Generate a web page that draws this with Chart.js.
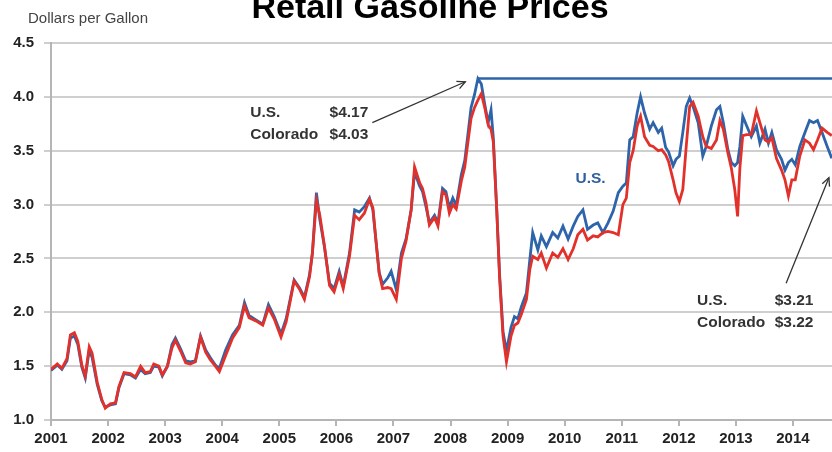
<!DOCTYPE html>
<html><head><meta charset="utf-8">
<script src="https://cdn.jsdelivr.net/npm/chart.js@4/dist/chart.umd.min.js"></script>
<style>html,body{margin:0;padding:0;background:#fff;overflow:hidden}#wrap{width:832px;height:452px;position:relative}</style>
</head><body><div id="wrap"><canvas id="c" width="832" height="452"></canvas></div>
<script>
// ---- data (decimal years) ----
const dates = [
2001.00,2001.11,2001.19,2001.28,2001.34,2001.41,2001.47,2001.54,2001.60,2001.67,2001.72,2001.81,2001.89,2001.95,
2002.04,2002.13,2002.19,2002.28,2002.39,2002.48,2002.57,2002.65,2002.74,2002.80,2002.89,2002.95,
2003.04,2003.12,2003.18,2003.27,2003.36,2003.44,2003.53,2003.62,2003.71,2003.79,2003.88,2003.95,
2004.06,2004.18,2004.30,2004.39,2004.47,2004.59,2004.71,2004.81,2004.91,
2005.03,2005.12,2005.26,2005.35,2005.44,2005.53,2005.58,2005.65,2005.71,2005.79,2005.88,2005.96,
2006.05,2006.12,2006.23,2006.32,2006.40,2006.49,2006.58,2006.64,2006.70,2006.75,2006.81,2006.90,2006.96,
2007.05,2007.14,2007.22,2007.31,2007.37,2007.46,2007.51,2007.57,2007.63,2007.72,2007.78,2007.86,2007.92,2007.98,
2008.04,2008.10,2008.19,2008.25,2008.30,2008.36,2008.42,2008.48,2008.54,2008.60,2008.66,2008.71,2008.75,2008.81,2008.86,2008.92,2008.98,
2009.06,2009.12,2009.18,2009.24,2009.33,2009.39,2009.44,2009.53,2009.59,2009.68,2009.79,2009.88,2009.97,
2010.06,2010.15,2010.23,2010.32,2010.40,2010.50,2010.58,2010.67,2010.76,2010.85,2010.94,
2011.02,2011.08,2011.14,2011.20,2011.27,2011.33,2011.40,2011.49,2011.55,2011.64,2011.70,2011.77,2011.82,2011.90,2011.95,
2012.01,2012.07,2012.13,2012.19,2012.25,2012.34,2012.42,2012.48,2012.57,2012.66,2012.72,2012.78,2012.86,2012.92,2012.98,
2013.03,2013.07,2013.12,2013.19,2013.27,2013.36,2013.42,2013.51,2013.57,2013.63,2013.71,2013.80,2013.86,2013.92,2013.98,
2014.04,2014.12,2014.21,2014.29,2014.36,2014.43,2014.51,2014.60,2014.68];

const usPrices = [
1.46,1.51,1.47,1.55,1.76,1.78,1.70,1.49,1.39,1.65,1.58,1.33,1.18,1.12,
1.14,1.15,1.30,1.43,1.42,1.39,1.47,1.43,1.44,1.50,1.49,1.41,
1.50,1.70,1.76,1.66,1.55,1.54,1.55,1.78,1.65,1.58,1.51,1.48,
1.65,1.79,1.88,2.09,1.97,1.93,1.89,2.07,1.96,
1.80,1.94,2.30,2.23,2.14,2.35,2.55,3.11,2.86,2.61,2.27,2.22,
2.38,2.24,2.55,2.95,2.93,2.98,3.06,2.95,2.63,2.37,2.26,2.32,2.38,
2.21,2.55,2.68,2.95,3.30,3.17,3.12,2.98,2.83,2.90,2.83,3.15,3.12,2.97,
3.06,2.99,3.28,3.41,3.63,3.90,4.02,4.17,4.12,3.93,3.76,3.88,3.62,2.95,2.35,1.82,1.64,
1.86,1.96,1.94,2.05,2.18,2.49,2.74,2.58,2.71,2.61,2.74,2.69,2.80,
2.68,2.80,2.89,2.95,2.77,2.81,2.83,2.74,2.83,2.94,3.11,
3.17,3.20,3.60,3.63,3.85,4.00,3.85,3.70,3.76,3.67,3.71,3.53,3.49,3.36,3.42,
3.45,3.67,3.91,3.99,3.91,3.76,3.45,3.54,3.73,3.88,3.91,3.76,3.51,3.39,3.36,
3.39,3.54,3.82,3.73,3.63,3.73,3.57,3.70,3.57,3.67,3.51,3.42,3.32,3.39,3.42,
3.37,3.54,3.67,3.78,3.76,3.78,3.67,3.54,3.43];

const coPrices = [
1.47,1.52,1.48,1.57,1.79,1.81,1.73,1.51,1.41,1.68,1.62,1.35,1.19,1.11,
1.15,1.16,1.31,1.44,1.43,1.40,1.50,1.44,1.45,1.52,1.50,1.42,
1.50,1.67,1.74,1.64,1.53,1.52,1.54,1.77,1.63,1.56,1.50,1.45,
1.60,1.76,1.86,2.06,1.95,1.92,1.88,2.04,1.94,
1.77,1.91,2.29,2.22,2.12,2.33,2.55,3.04,2.90,2.62,2.25,2.19,
2.35,2.22,2.52,2.90,2.86,2.92,3.05,2.97,2.63,2.36,2.22,2.23,2.22,
2.12,2.50,2.66,2.95,3.35,3.20,3.15,3.02,2.81,2.88,2.80,3.12,3.09,2.92,
3.00,2.96,3.22,3.35,3.56,3.80,3.90,3.97,4.03,3.90,3.74,3.70,3.58,2.95,2.32,1.78,1.54,
1.78,1.88,1.90,1.98,2.12,2.40,2.52,2.49,2.55,2.41,2.55,2.51,2.59,
2.49,2.59,2.72,2.77,2.67,2.71,2.70,2.74,2.75,2.74,2.72,
3.00,3.06,3.39,3.50,3.73,3.82,3.63,3.55,3.54,3.50,3.51,3.46,3.40,3.23,3.11,
3.03,3.14,3.54,3.91,3.95,3.82,3.63,3.54,3.52,3.60,3.78,3.70,3.48,3.34,3.14,
2.89,3.34,3.64,3.65,3.65,3.87,3.76,3.60,3.58,3.62,3.43,3.32,3.23,3.08,3.23,
3.23,3.45,3.60,3.57,3.51,3.60,3.71,3.67,3.64];

const peakLineDates = [2008.48, 2014.684];
const peakLineValues = [4.17, 4.17];
const yearTicks = [2001,2002,2003,2004,2005,2006,2007,2008,2009,2010,2011,2012,2013,2014];
const priceTicks = [1.0,1.5,2.0,2.5,3.0,3.5,4.0,4.5];
const titleText = 'Retail Gasoline Prices';
const unitText = 'Dollars per Gallon';
const peakNote = [['U.S.', '$4.17'], ['Colorado', '$4.03']];
const lastNote = [['U.S.', '$3.21'], ['Colorado', '$3.22']];

const BLUE = '#2d64aa', RED = '#e2312b';
const FONT = "'Liberation Sans', Arial, sans-serif";

const toXY = (xs, ys) => xs.map((x, i) => ({x, y: ys[i]}));

function arrow(ctx, x1, y1, x2, y2) {
  ctx.save();
  ctx.strokeStyle = '#333'; ctx.lineWidth = 1.3;
  ctx.beginPath(); ctx.moveTo(x1, y1); ctx.lineTo(x2, y2); ctx.stroke();
  const a = Math.atan2(y2 - y1, x2 - x1), L = 9, w = 0.45;
  ctx.beginPath();
  ctx.moveTo(x2 - L * Math.cos(a - w), y2 - L * Math.sin(a - w));
  ctx.lineTo(x2, y2);
  ctx.lineTo(x2 - L * Math.cos(a + w), y2 - L * Math.sin(a + w));
  ctx.stroke();
  ctx.restore();
}

const annot = {
  id: 'annot',
  afterDraw(chart) {
    const {ctx, scales: {x, y}} = chart;
    ctx.save();
    // title & unit
    ctx.fillStyle = '#000';
    ctx.font = 'bold 34px ' + FONT;
    ctx.textAlign = 'center'; ctx.textBaseline = 'alphabetic';
    ctx.fillText(titleText, 430, 18);
    ctx.fillStyle = '#444';
    ctx.font = '15px ' + FONT;
    ctx.textAlign = 'left';
    ctx.fillText(unitText, 28, 23);

    // peak note
    ctx.fillStyle = '#333';
    ctx.font = 'bold 15.5px ' + FONT;
    ctx.textBaseline = 'middle';
    ctx.fillText(peakNote[0][0], x.getPixelForValue(2004.49), y.getPixelForValue(3.85));
    ctx.fillText(peakNote[0][1], x.getPixelForValue(2005.88), y.getPixelForValue(3.85));
    ctx.fillText(peakNote[1][0], x.getPixelForValue(2004.49), y.getPixelForValue(3.65));
    ctx.fillText(peakNote[1][1], x.getPixelForValue(2005.88), y.getPixelForValue(3.65));
    arrow(ctx, x.getPixelForValue(2006.63), y.getPixelForValue(3.76), x.getPixelForValue(2008.26), y.getPixelForValue(4.14));

    // last note
    ctx.fillText(lastNote[0][0], x.getPixelForValue(2012.32), y.getPixelForValue(2.11));
    ctx.fillText(lastNote[0][1], x.getPixelForValue(2013.68), y.getPixelForValue(2.11));
    ctx.fillText(lastNote[1][0], x.getPixelForValue(2012.32), y.getPixelForValue(1.90));
    ctx.fillText(lastNote[1][1], x.getPixelForValue(2013.68), y.getPixelForValue(1.90));
    arrow(ctx, x.getPixelForValue(2013.88), y.getPixelForValue(2.27), x.getPixelForValue(2014.63), y.getPixelForValue(3.25));

    // series label
    ctx.fillStyle = '#2f5f9e';
    ctx.fillText('U.S.', x.getPixelForValue(2010.19), y.getPixelForValue(3.24));
    ctx.restore();
  }
};

new Chart(document.getElementById('c'), {
  type: 'line',
  data: {
    datasets: [
      {label: 'Colorado', data: toXY(dates, coPrices), borderColor: RED, borderWidth: 2.8, pointRadius: 0, tension: 0, order: 0},
      {label: 'U.S.', data: toXY(dates, usPrices), borderColor: BLUE, borderWidth: 2.8, pointRadius: 0, tension: 0, order: 1},
      {label: 'U.S. peak', data: toXY(peakLineDates, peakLineValues), borderColor: BLUE, borderWidth: 2.4, pointRadius: 0, order: 2}
    ]
  },
  options: {
    responsive: false, animation: false, devicePixelRatio: 1,
    layout: {padding: {top: 43, right: 0, left: 0, bottom: 0}},
    plugins: {legend: {display: false}, tooltip: {enabled: false}, title: {display: false}},
    scales: {
      x: {
        type: 'linear', min: 2001, max: 2014.684,
        afterFit: s => { s.height = 32; },
        afterBuildTicks: s => { s.ticks = yearTicks.map(v => ({value: v})); },
        ticks: {autoSkip: false, maxRotation: 0, padding: 4, color: '#222',
                font: {family: FONT, weight: 'bold', size: 15},
                callback: v => String(v)},
        grid: {drawOnChartArea: false, drawTicks: true, tickLength: 6, color: '#b5b5b5', lineWidth: 2},
        border: {color: '#b5b5b5', width: 2}
      },
      y: {
        min: 1, max: 4.5,
        afterFit: s => { s.width = 51; },
        afterBuildTicks: s => { s.ticks = priceTicks.map(v => ({value: v})); },
        ticks: {padding: 10, color: '#222', font: {family: FONT, weight: 'bold', size: 15},
                callback: v => Number(v).toFixed(1)},
        grid: {color: '#cfcfcf', lineWidth: 2, tickLength: 7},
        border: {color: '#b5b5b5', width: 2}
      }
    }
  },
  plugins: [annot]
});
</script></body></html>
